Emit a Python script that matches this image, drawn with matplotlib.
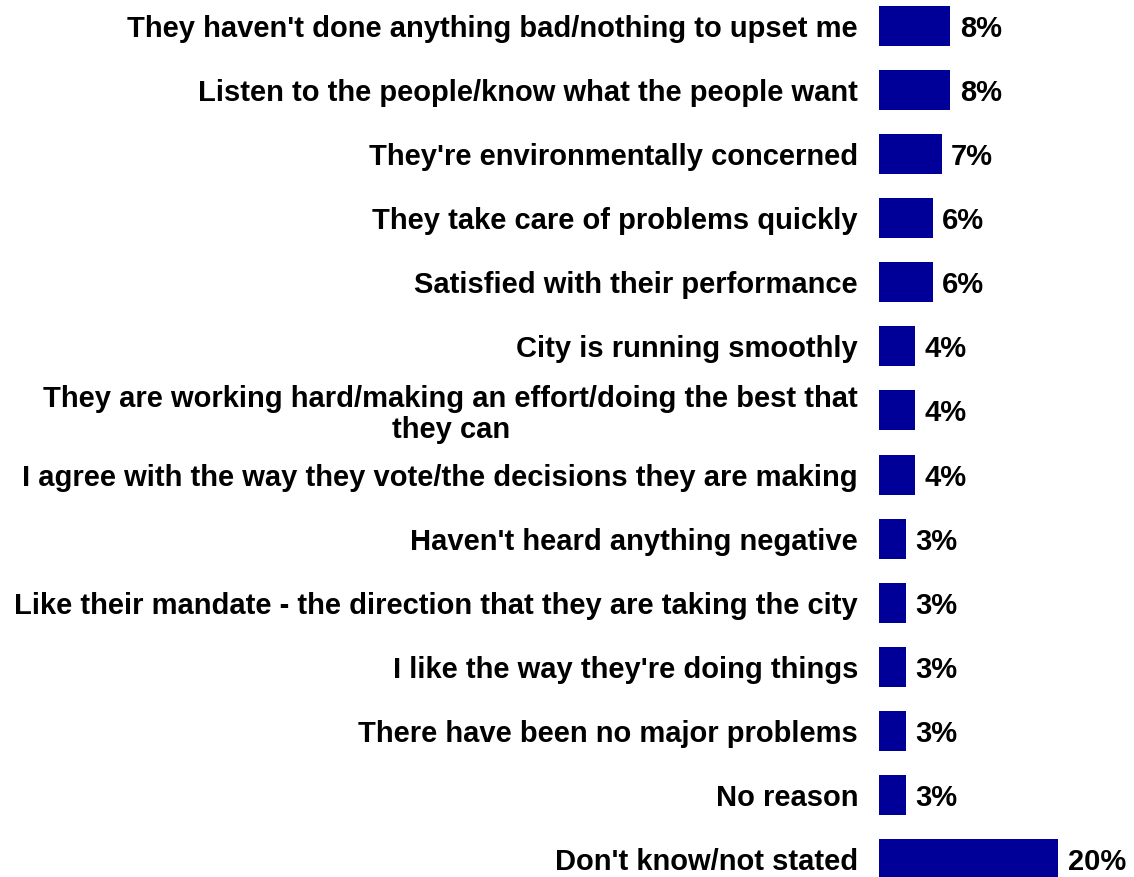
import matplotlib.pyplot as plt

plt.rcParams['font.family'] = ['Liberation Sans', 'DejaVu Sans']

reasons = [
    "They haven't done anything bad/nothing to upset me",
    "Listen to the people/know what the people want",
    "They're environmentally concerned",
    "They take care of problems quickly",
    "Satisfied with their performance",
    "City is running smoothly",
    "They are working hard/making an effort/doing the best that\nthey can",
    "I agree with the way they vote/the decisions they are making",
    "Haven't heard anything negative",
    "Like their mandate - the direction that they are taking the city",
    "I like the way they're doing things",
    "There have been no major problems",
    "No reason",
    "Don't know/not stated",
]
percent = [8, 8, 7, 6, 6, 4, 4, 4, 3, 3, 3, 3, 3, 20]

fig = plt.figure(figsize=(11.34, 8.77), dpi=100)
ax = fig.add_axes([0.775, 0, 0.225, 1])

pos = list(range(len(reasons)))
ax.barh(pos, percent, height=0.624, color='#000099')
ax.set_xlim(0, 28.5)
ax.set_ylim(13.28, -0.405)

# value labels just past the bar ends
for y, v in zip(pos, percent):
    ax.annotate(f"{v}%", (v, y), xytext=(7, 0), textcoords='offset points',
                ha='left', va='center_baseline', fontsize=21, fontweight='bold')

ax.set_yticks(pos)
ax.set_yticklabels(reasons, fontsize=21, fontweight='bold')
for lbl in ax.get_yticklabels():
    lbl.set_multialignment('center')
    lbl.set_linespacing(1.12)
ax.tick_params(axis='y', length=0, pad=15)
ax.set_xticks([])
for s in ax.spines.values():
    s.set_visible(False)

fig.savefig('out.png', dpi=100)
